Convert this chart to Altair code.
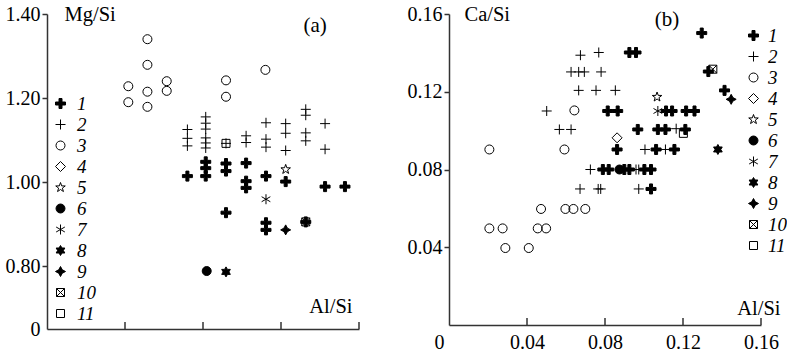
import altair as alt
import pandas as pd

SERIF = "Liberation Serif, Times New Roman, serif"

# ---------------- categories and marker styles ----------------
CATS = ["1", "2", "3", "4", "5", "6", "7", "8", "9", "10", "11"]
CIRCLE = "M0.9,0A0.9,0.9 0 1,1 -0.9,0A0.9,0.9 0 1,1 0.9,0Z"
SHAPES = [
    "M-0.3,-1H0.3V-0.3H1V0.3H0.3V1H-0.3V0.3H-1V-0.3H-0.3Z",                      # 1 bold cross
    "M-1,0H1M0,-1V1",                                                            # 2 thin plus
    CIRCLE,                                                                      # 3 open circle
    "M0,-1L1,0L0,1L-1,0Z",                                                       # 4 diamond
    "M0,-1L0.235,-0.324L0.951,-0.309L0.38,0.124L0.588,0.809L0,0.4L-0.588,0.809L-0.38,0.124L-0.951,-0.309L-0.235,-0.324Z",  # 5 star
    CIRCLE,                                                                      # 6 filled circle
    "M0,-1V1M-0.87,-0.5L0.87,0.5M-0.87,0.5L0.87,-0.5",                           # 7 asterisk
    "M0,-1L0.289,-0.5L0.866,-0.5L0.577,0L0.866,0.5L0.289,0.5L0,1L-0.289,0.5L-0.866,0.5L-0.577,0L-0.866,-0.5L-0.289,-0.5Z",  # 8 hexagram
    "M0,-1L0.35,-0.35L1,0L0.35,0.35L0,1L-0.35,0.35L-1,0L-0.35,-0.35Z",           # 9 4-point star
    "M-0.8,-0.8H0.8V0.8H-0.8ZM-0.8,-0.8L0.8,0.8M-0.8,0.8L0.8,-0.8",              # 10 boxed x
    "M-0.8,-0.8H0.8V0.8H-0.8Z",                                                  # 11 square
]
FILLS = ["black", "transparent", "transparent", "transparent", "transparent",
         "black", "transparent", "black", "black", "transparent", "transparent"]
STROKES = ["black"] * 11

# ---------------- panel (a): Mg/Si vs Al/Si ----------------
A_SER = (["3"] * 11 + ["2"] * 24 + ["11"] + ["1"] * 17
         + ["5", "7", "9", "10", "6", "8"])
A_X = [0.0515, 0.0515, 0.0417, 0.0515, 0.0614, 0.0614, 0.0417, 0.0515, 0.0918, 0.0918, 0.1120,
       0.0720, 0.0720, 0.0720, 0.0814, 0.0814, 0.0814, 0.0814, 0.0814, 0.0814, 0.0918,
       0.1021, 0.1021, 0.1123, 0.1123, 0.1123, 0.1224, 0.1224, 0.1224,
       0.1327, 0.1327, 0.1327, 0.1327, 0.1426, 0.1426,
       0.0918,
       0.0720, 0.0814, 0.0814, 0.0814, 0.0918, 0.0918, 0.0918, 0.1021, 0.1021, 0.1021,
       0.1123, 0.1123, 0.1123, 0.1224, 0.1327, 0.1426, 0.1528,
       0.1224, 0.1123, 0.1224, 0.1327, 0.0819, 0.0918]
A_Y = [1.340, 1.279, 1.228, 1.215, 1.240, 1.217, 1.190, 1.179, 1.242, 1.203, 1.267,
       1.125, 1.104, 1.086, 1.155, 1.140, 1.126, 1.105, 1.093, 1.081, 1.092,
       1.110, 1.094, 1.141, 1.102, 1.083, 1.139, 1.116, 1.075,
       1.173, 1.159, 1.117, 1.098, 1.139, 1.078,
       1.092,
       1.014, 1.048, 1.033, 1.014, 1.044, 1.026, 0.927, 1.045, 1.002, 0.986,
       1.014, 0.903, 0.886, 1.001, 0.905, 0.989, 0.989,
       1.030, 0.959, 0.886, 0.905, 0.788, 0.786]

# ---------------- panel (b): Ca/Si vs Al/Si ----------------
B_SER = (["3"] * 13 + ["2"] * 22 + ["1"] * 25
         + ["4", "5", "6", "7", "8", "9", "10", "11"])
B_X = [0.0207, 0.0592, 0.0643, 0.0472, 0.0597, 0.0638, 0.0699, 0.0207, 0.0275, 0.0455, 0.0498, 0.0289, 0.0409,
       0.0674, 0.0768, 0.0626, 0.0665, 0.0694, 0.0780, 0.0665, 0.0754, 0.0853, 0.0501, 0.0566, 0.0626,
       0.1005, 0.1110, 0.1165, 0.0725, 0.0959, 0.0973, 0.0672, 0.0765, 0.0778, 0.0973,
       0.1296, 0.0925, 0.0959, 0.1330, 0.1413, 0.0814, 0.0865, 0.1113, 0.1144, 0.1216, 0.1259,
       0.0968, 0.1071, 0.1110, 0.1212, 0.0862, 0.1062, 0.1156,
       0.0789, 0.0819, 0.0899, 0.0925, 0.1002, 0.1036, 0.1036,
       0.0862, 0.1067, 0.0874, 0.1071, 0.1379, 0.1447, 0.1353, 0.1202]
B_Y = [0.0903, 0.0903, 0.1104, 0.0597, 0.0597, 0.0597, 0.0597, 0.0497, 0.0497, 0.0497, 0.0497, 0.0396, 0.0396,
       0.1388, 0.1402, 0.1302, 0.1302, 0.1302, 0.1302, 0.1207, 0.1207, 0.1207, 0.1101, 0.1006, 0.1006,
       0.0903, 0.0903, 0.1010, 0.0800, 0.0800, 0.0800, 0.0700, 0.0700, 0.0700, 0.0700,
       0.1502, 0.1402, 0.1402, 0.1304, 0.1207, 0.1101, 0.1101, 0.1101, 0.1101, 0.1101, 0.1101,
       0.1006, 0.1006, 0.1006, 0.1006, 0.0903, 0.0903, 0.0903,
       0.0800, 0.0800, 0.0800, 0.0800, 0.0800, 0.0800, 0.0700,
       0.0963, 0.1173, 0.0800, 0.1101, 0.0903, 0.1161, 0.1316, 0.0986]

X_TICKS = [0.04, 0.08, 0.12, 0.16]
A_YTICKS = [0.65, 0.8, 1.0, 1.2, 1.4]
B_YTICKS = [0.04, 0.08, 0.12, 0.16]
B_XTICKS = [0.0, 0.04, 0.08, 0.12, 0.16]


def legend(lx, ly, off):
    return alt.Legend(orient="none", legendX=lx, legendY=ly, title=None,
                      labelFont=SERIF, labelFontStyle="italic", labelFontSize=19,
                      labelColor="black", symbolSize=100, symbolStrokeColor="black",
                      symbolStrokeWidth=1, symbolOpacity=1, rowPadding=1,
                      labelOffset=off, padding=0)


def panel(ser, xs, ys, xdom, ydom, W, H, xaxis, yaxis, tag, tx, ty, lx, ly, off):
    df = pd.DataFrame({"s": ser, "x": xs, "y": ys})
    xs_ = alt.Scale(domain=xdom, nice=False, zero=False)
    ys_ = alt.Scale(domain=ydom, nice=False, zero=False)
    lg = legend(lx, ly, off)
    pts = alt.Chart(df).mark_point(filled=False, size=100, strokeWidth=1, opacity=1).encode(
        x=alt.X("x:Q", scale=xs_, axis=xaxis),
        y=alt.Y("y:Q", scale=ys_, axis=yaxis),
        shape=alt.Shape("s:N", scale=alt.Scale(domain=CATS, range=SHAPES), legend=lg),
        fill=alt.Fill("s:N", scale=alt.Scale(domain=CATS, range=FILLS), legend=lg),
        stroke=alt.Stroke("s:N", scale=alt.Scale(domain=CATS, range=STROKES), legend=lg),
    )
    ticks = alt.Chart(pd.DataFrame({"x": X_TICKS})).mark_rule(color="#333", strokeWidth=1.5).encode(
        x=alt.X("x:Q", scale=xs_, axis=xaxis),
        y=alt.value(H), y2=alt.value(H - 7),
    )
    lab = alt.Chart(pd.DataFrame({"x": [tx], "y": [ty], "t": [tag]})).mark_text(
        font=SERIF, fontSize=21, color="black").encode(
        x=alt.X("x:Q", scale=xs_, axis=xaxis),
        y=alt.Y("y:Q", scale=ys_, axis=yaxis),
        text="t:N",
    )
    return alt.layer(pts, ticks, lab).properties(width=W, height=H)


axis_common = dict(grid=False, domainColor="#333", domainWidth=1.5, tickColor="#333",
                   tickWidth=1.5, tickSize=5, labelFont=SERIF, labelFontSize=20,
                   labelColor="black", titleFont=SERIF, titleFontSize=20.5,
                   titleFontWeight="normal", titleColor="black", titleAngle=0)

a_x_axis = alt.Axis(title="Al/Si", labels=False, ticks=False, titleX=305, titleY=-17,
                    titleAlign="right", titleBaseline="alphabetic", **axis_common)
a_y_axis = alt.Axis(title="Mg/Si", values=A_YTICKS,
                    labelExpr="datum.value < 0.7 ? '0' : format(datum.value, '.2f')",
                    tickOpacity={"condition": {"test": "datum.value < 0.7", "value": 0}, "value": 1},
                    labelPadding=2, titleX=17, titleY=6, titleAlign="left",
                    titleBaseline="alphabetic", **axis_common)
b_x_axis = alt.Axis(title="Al/Si", values=B_XTICKS, ticks=False,
                    labelExpr="datum.value == 0 ? '0' : format(datum.value, '.2f')",
                    labelAlign={"condition": {"test": "datum.value == 0", "value": "right"}, "value": "center"},
                    labelOffset={"condition": {"test": "datum.value == 0", "value": -5}, "value": 0},
                    labelPadding=7, titleX=331, titleY=-11, titleAlign="right",
                    titleBaseline="alphabetic", **axis_common)
b_y_axis = alt.Axis(title="Ca/Si", values=B_YTICKS, format=".2f", labelPadding=2,
                    titleX=15, titleY=6, titleAlign="left", titleBaseline="alphabetic",
                    **axis_common)

pa = panel(A_SER, A_X, A_Y, [0, 0.16], [0.65, 1.40], 312, 315, a_x_axis, a_y_axis,
           "(a)", 0.1375, 1.371, 4, 80, 7)
pb = panel(B_SER, B_X, B_Y, [0, 0.16], [0, 0.16], 312, 311, b_x_axis, b_y_axis,
           "(b)", 0.1118, 0.157, 295, 12, 5)

chart = alt.hconcat(pa, pb, spacing=47).resolve_scale(
    shape="independent", fill="independent", stroke="independent"
).properties(
    padding={"left": 5, "top": 4, "right": 0, "bottom": 0}
).configure_view(stroke=None)

chart.save("out.html", embed_options={"renderer": "svg", "actions": False})
